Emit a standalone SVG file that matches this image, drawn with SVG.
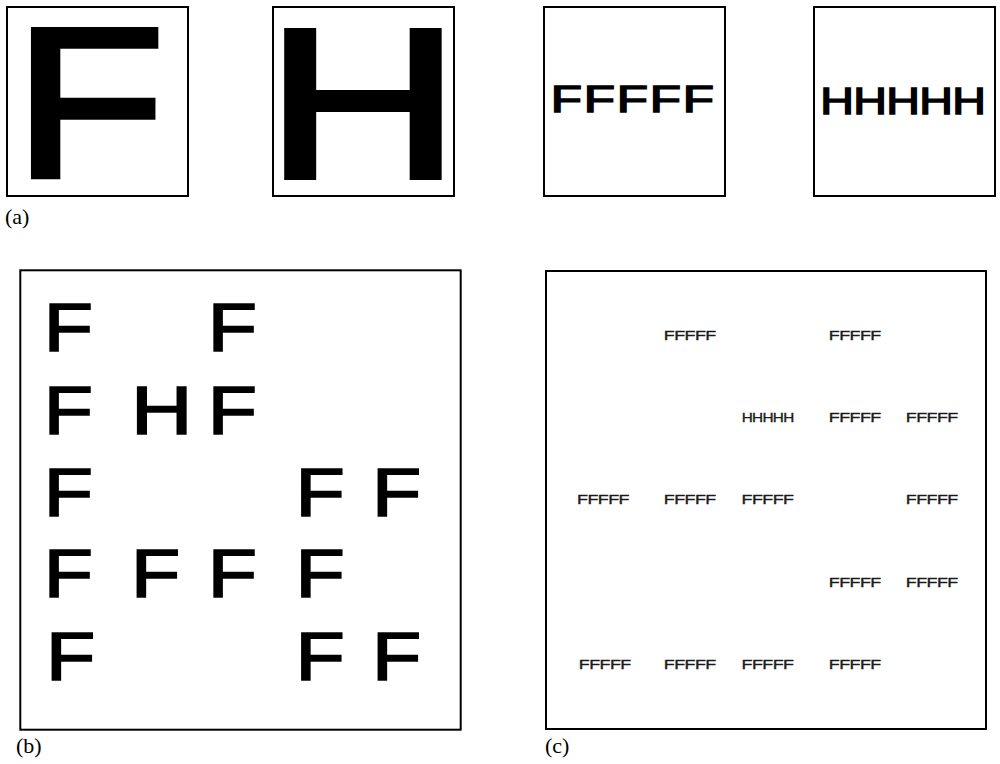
<svg xmlns="http://www.w3.org/2000/svg" width="1000" height="764" viewBox="0 0 1000 764">
<style>
.box{fill:#fff;stroke:#000;stroke-width:2}
.L{font-family:"Liberation Sans",Arial,sans-serif;font-weight:normal;fill:#000;stroke:#000;stroke-linejoin:miter}
.big{font-size:213px;stroke-width:5.4px}
.b{font-size:68.3px;stroke-width:1.73px}
.c{font-size:12.5px;stroke-width:0.32px;fill:#1a1a1a;stroke:#1a1a1a}
.cf{letter-spacing:-0.37px}
.ch{letter-spacing:-0.55px}
.lab{font-family:"Liberation Serif","Times New Roman",serif;font-size:22px;fill:#000}
</style>
<rect width="1000" height="764" fill="#fff"/>
<g id="panel-a">
  <g id="a-F">
    <rect class="box" x="7" y="7" width="181" height="189"/>
    <text class="L big" transform="translate(13.8,177.3) scale(1.164,1)">F</text>
  </g>
  <g id="a-H">
    <rect class="box" x="273" y="7" width="181" height="189"/>
    <text class="L big" transform="translate(265.5,177.3) scale(1.266,1)">H</text>
  </g>
  <g id="a-FFFFF">
    <rect class="box" x="544" y="7" width="181" height="189"/>
    <text class="L" style="font-size:37.4px;stroke-width:1.5px;letter-spacing:1.31px" transform="translate(550.8,112.25) scale(1.366,1)">FFFFF</text>
  </g>
  <g id="a-HHHHH">
    <rect class="box" x="814" y="7" width="181" height="189"/>
    <text class="L" style="font-size:36.7px;stroke-width:1.4px;letter-spacing:-0.52px" transform="translate(820.2,114.3) scale(1.27,1)">HHHHH</text>
  </g>
  <text class="lab" x="5" y="224">(a)</text>
</g>
<g id="panel-b">
  <rect class="box" x="20.3" y="270.3" width="440.4" height="459.4"/>
  <g class="L b">
    <text transform="translate(43.7,351.4) scale(1.18,1)">F</text>
    <text transform="translate(207.7,351.4) scale(1.18,1)">F</text>
    <text transform="translate(43.7,433.8) scale(1.18,1)">F</text>
    <text transform="translate(131,433.8) scale(1.247,1)">H</text>
    <text transform="translate(207.7,433.8) scale(1.18,1)">F</text>
    <text transform="translate(43.7,515.8) scale(1.18,1)">F</text>
    <text transform="translate(295.4,515.8) scale(1.18,1)">F</text>
    <text transform="translate(372.1,515.8) scale(1.18,1)">F</text>
    <text transform="translate(43.7,597.4) scale(1.18,1)">F</text>
    <text transform="translate(131.1,597.4) scale(1.18,1)">F</text>
    <text transform="translate(207.7,597.4) scale(1.18,1)">F</text>
    <text transform="translate(295.4,597.4) scale(1.18,1)">F</text>
    <text transform="translate(46.1,679.8) scale(1.18,1)">F</text>
    <text transform="translate(295.4,679.8) scale(1.18,1)">F</text>
    <text transform="translate(372.1,679.8) scale(1.18,1)">F</text>
  </g>
  <text class="lab" x="16" y="753">(b)</text>
</g>
<g id="panel-c">
  <rect class="box" x="546" y="271" width="440" height="458"/>
  <g class="L c">
    <text class="cf" transform="translate(663.8,339.8) scale(1.43,1)">FFFFF</text>
    <text class="cf" transform="translate(828.8,339.8) scale(1.43,1)">FFFFF</text>
    <text class="ch" transform="translate(741.7,421.8) scale(1.226,1)">HHHHH</text>
    <text class="cf" transform="translate(828.8,421.8) scale(1.43,1)">FFFFF</text>
    <text class="cf" transform="translate(905.8,421.8) scale(1.43,1)">FFFFF</text>
    <text class="cf" transform="translate(577.1,504.1) scale(1.43,1)">FFFFF</text>
    <text class="cf" transform="translate(663.8,504.1) scale(1.43,1)">FFFFF</text>
    <text class="cf" transform="translate(741.5,504.1) scale(1.43,1)">FFFFF</text>
    <text class="cf" transform="translate(905.8,504.1) scale(1.43,1)">FFFFF</text>
    <text class="cf" transform="translate(828.8,586.5) scale(1.43,1)">FFFFF</text>
    <text class="cf" transform="translate(905.8,586.5) scale(1.43,1)">FFFFF</text>
    <text class="cf" transform="translate(578.8,668.5) scale(1.43,1)">FFFFF</text>
    <text class="cf" transform="translate(663.8,668.5) scale(1.43,1)">FFFFF</text>
    <text class="cf" transform="translate(741.5,668.5) scale(1.43,1)">FFFFF</text>
    <text class="cf" transform="translate(828.8,668.5) scale(1.43,1)">FFFFF</text>
  </g>
  <text class="lab" x="545" y="753">(c)</text>
</g>
</svg>
